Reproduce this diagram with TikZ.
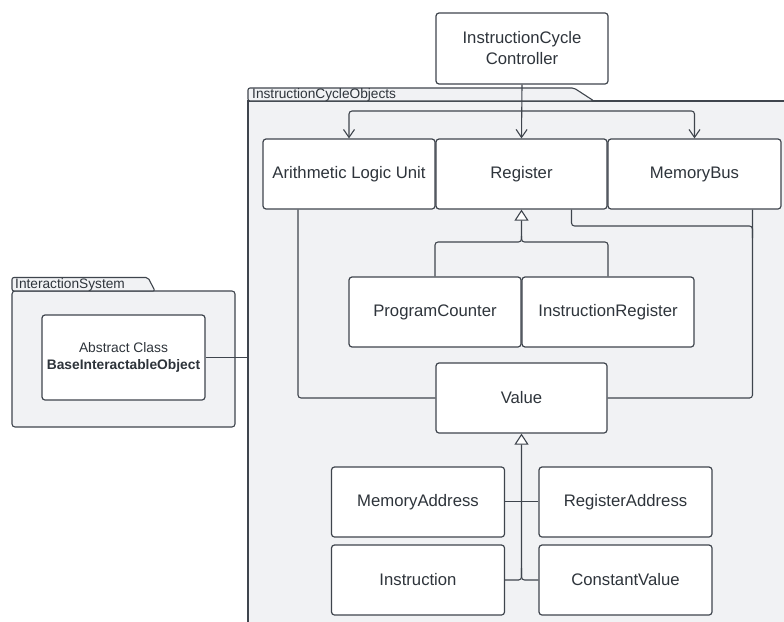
\documentclass[tikz,border=0pt]{standalone}
\usepackage{fontspec}
\setmainfont{Liberation Sans}
\usetikzlibrary{arrows.meta,calc}
\definecolor{pkgfill}{HTML}{F1F2F4}
\definecolor{edge}{HTML}{3F454D}
\definecolor{ink}{HTML}{2E343B}
\tikzset{
  cls/.style={draw=edge, fill=white, line width=1.2pt, rounded corners=3pt,
    text=ink, align=center, inner sep=0pt,
    font=\fontsize{16.7}{21}\selectfont},
  pkg/.style={draw=edge, fill=pkgfill, line width=1.1pt},
  tablabel/.style={text=ink, inner sep=0pt, anchor=west,
    font=\fontsize{13.7}{16}\selectfont},
  conn/.style={draw=edge, line width=1.1pt, rounded corners=3pt},
  barb/.style={conn, -{Straight Barb[length=8pt,width=11pt,line width=1.1pt]}},
  inh/.style={conn, -{Triangle[open,length=11pt,width=14pt,fill=white,line width=1.1pt]}}
}
\begin{document}
\begin{tikzpicture}[x=1pt,y=-1pt]
\useasboundingbox (0,0) rectangle (784,621);
\fill[white] (0,0) rectangle (784,621);

% package: InstructionCycleObjects
\path[pkg] (248,101) rectangle (800,640);
\path[pkg, rounded corners=2pt] (248,101) -- (248,88) -- (574,88) -- (594,101) -- cycle;
\node[tablabel] (icolab) at (252,95) {InstructionCycleObjects};
\coordinate (icoL) at (248,357.5);

% package: InteractionSystem
\path[pkg, rounded corners=3pt] (12,291) rectangle (235,427);
\path[pkg, rounded corners=2pt] (12,291) -- (12,277.5) -- (148,277.5) -- (155,291) -- cycle;
\node[tablabel] (islab) at (15,284.5) {InteractionSystem};

% classes
\node[cls, minimum width=172pt, minimum height=71pt] (ctrl) at (522,48.5) {InstructionCycle\\Controller};
\node[cls, minimum width=172pt, minimum height=70pt] (alu) at (349,174) {Arithmetic Logic Unit};
\node[cls, minimum width=171pt, minimum height=70pt] (reg) at (521.5,174) {Register};
\node[cls, minimum width=173pt, minimum height=70pt] (mbus) at (694.5,174) {MemoryBus};
\node[cls, minimum width=172pt, minimum height=70pt] (pc) at (435,312) {ProgramCounter};
\node[cls, minimum width=172pt, minimum height=70pt] (ir) at (608,312) {InstructionRegister};
\node[cls, minimum width=171pt, minimum height=70pt] (val) at (521.5,398) {Value};
\node[cls, minimum width=173pt, minimum height=70pt] (maddr) at (418,502) {MemoryAddress};
\node[cls, minimum width=173pt, minimum height=70pt] (raddr) at (625.5,502) {RegisterAddress};
\node[cls, minimum width=173pt, minimum height=70pt] (instr) at (418,580) {Instruction};
\node[cls, minimum width=173pt, minimum height=70pt] (cval) at (625.5,580) {ConstantValue};
\node[cls, minimum width=163pt, minimum height=85pt, font=\fontsize{13.8}{16.6}\selectfont]
  (bio) at (123.5,357.5) {Abstract Class\\\textbf{BaseInteractableObject}};

% controller fan-out
\coordinate (bus) at (0,111);
\draw[barb] (ctrl.south) -- (reg.north);
\draw[barb] (ctrl.south |- bus) -| (alu.north);
\draw[barb] (ctrl.south |- bus) -| (mbus.north);

% associations with Value
\draw[conn] ([xshift=-51pt]alu.south) |- (val.west);
\coordinate (mb) at ([xshift=58pt]mbus.south);
\coordinate (jr) at (0,226);
\draw[conn] (mb) |- (val.east);
\draw[conn] ([xshift=50pt]reg.south) |- (mb |- jr) -- ([yshift=-12pt]mb |- jr);

% Register subclasses
\coordinate (sp) at (0,242);
\draw[inh] (pc.north) |- (reg.south |- sp) -- (reg.south);
\draw[conn] (ir.north) |- (reg.south |- sp) -- ([yshift=6pt]reg.south |- sp);

% Value subclasses
\draw[inh] (instr.east) -- (val.south |- instr.east) -- (val.south);
\draw[conn] (cval.west) -- (val.south |- cval.west) -- ([yshift=12pt]val.south |- cval.west);
\draw[conn] ([yshift=0.5pt]maddr.east) -- ([yshift=0.5pt]raddr.west);

% link between packages
\draw[conn] (bio.east) -- (bio.east -| icoL);
\end{tikzpicture}
\end{document}
